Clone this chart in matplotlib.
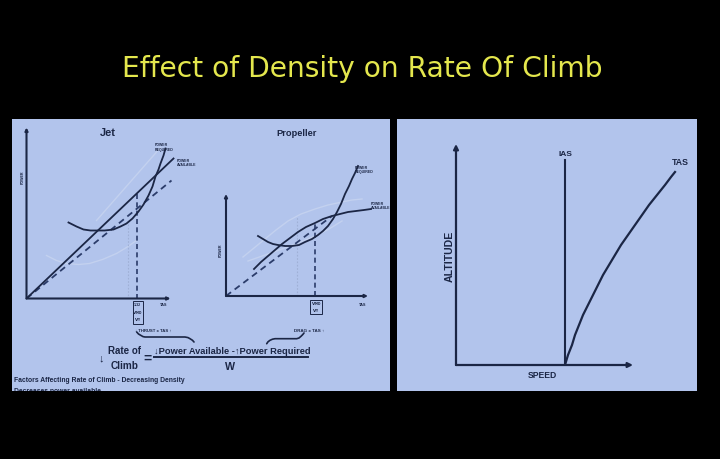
import matplotlib
matplotlib.use('Agg')
import matplotlib.pyplot as plt
from matplotlib import font_manager as fm
from matplotlib.patches import Rectangle

# ---------------- data ----------------
TITLE = 'Effect of Density on Rate Of Climb'

# Jet diagram (x: TAS, y: power; arbitrary units, origin = axes corner)
jet_pa_tas = [0, 147]
jet_pa_pow = [0, 140]
jet_pa_alt_tas = [0, 145]
jet_pa_alt_pow = [0, 118]
jet_pr_tas = [42, 50, 57, 64, 70, 78, 87, 94, 100, 106, 112, 117, 122, 126, 129, 132, 134, 137, 139]
jet_pr_pow = [76, 72, 69, 68, 68, 68, 69, 72, 75, 80, 87, 94, 103, 112, 122, 129, 135, 143, 150]
jet_ghost1_tas = [70, 134]
jet_ghost1_pow = [78, 151]
jet_ghost2_tas = [20, 30, 40, 52, 63, 76, 90, 100, 110]
jet_ghost2_pow = [43, 38, 35, 34, 35, 39, 45, 51, 58]
jet_vy = (110, 105)
jet_vmd = (101, 80)

# Propeller diagram
prop_pa_tas = [28, 35, 42, 49, 56, 64, 72, 80, 89, 97, 106, 114, 122, 130, 138, 145]
prop_pa_pow = [27, 34, 40, 46, 52, 58, 64, 69, 73, 77, 80, 82, 84, 85, 86, 87]
prop_pa_alt_tas = [0, 106]
prop_pa_alt_pow = [0, 80]
prop_pr_tas = [32, 37, 42, 47, 52, 59, 66, 73, 79, 86, 92, 97, 102, 107, 111, 115, 119, 123, 126, 129, 132]
prop_pr_pow = [60, 57, 54, 52, 51, 50, 50, 51, 54, 57, 61, 65, 70, 77, 84, 92, 102, 110, 117, 123, 130]
prop_ghost1_tas = [17, 28, 39, 50, 62, 75, 89, 102, 116, 126, 136]
prop_ghost1_pow = [39, 48, 57, 66, 75, 82, 87, 91, 94, 96, 97]
prop_ghost2_tas = [22, 39, 56, 72, 89, 103, 116]
prop_ghost2_pow = [35, 41, 47, 53, 60, 67, 75]
prop_vy = (89, 74)
prop_vmd = (71, 80)

# Altitude vs speed diagram
ias_speed = 109
ias_top = 205
tas_speed = [109, 110.5, 112, 114, 116, 119, 123, 127, 132, 137, 142, 147, 153, 159, 165, 172, 179, 186, 193, 201, 209, 215, 219]
tas_alt = [0, 5, 10, 15, 20, 30, 40, 50, 60, 70, 80, 90, 100, 110, 120, 130, 140, 150, 160, 170, 180, 188, 193]

# Braces (left panel, panel units)
jet_brace_x = [136.7, 138.5, 140.7, 143, 145, 185, 188, 190, 192.5, 194]
jet_brace_y = [333, 335, 336.3, 337.6, 338, 338, 338.6, 339.7, 341.3, 343]
prop_brace_x = [266.7, 268, 270, 272.5, 275, 296.7, 299, 301, 302.8, 304]
prop_brace_y = [344.7, 342.8, 341.3, 340.2, 339.7, 339.7, 339, 337.3, 335.5, 334]

# ---------------- style ----------------
W, H = 720, 460
PANEL = '#b2c4ec'
INK = '#1b2645'
DASH = '#2b3c6a'
GHOST = '#c3d1ef'
YELLOW = '#e4e74d'

names = {f.name for f in fm.fontManager.ttflist}
NARROW = 'Liberation Sans Narrow' if 'Liberation Sans Narrow' in names else 'Liberation Sans'
FAM = [NARROW, 'DejaVu Sans']
RFAM = ['Liberation Sans', 'DejaVu Sans']

fig = plt.figure(figsize=(W / 100, H / 100), dpi=100, facecolor='black')
renderer = fig.canvas.get_renderer()


def fit(t, width_px):
    w = t.get_window_extent(renderer).width
    if w > 0:
        t.set_fontsize(t.get_fontsize() * width_px / w)
    return t


def panel(x0, y0, x1, y1):
    ax = fig.add_axes([x0 / W, 1 - y1 / H, (x1 - x0) / W, (y1 - y0) / H])
    ax.set_facecolor(PANEL)
    ax.set_xlim(x0, x1)
    ax.set_ylim(y1, y0)
    ax.set_xticks([])
    ax.set_yticks([])
    for s in ax.spines.values():
        s.set_visible(False)
    return ax


def diagram(ox, oy, w, h):
    # axes whose data origin sits at pixel (ox, oy), 1 unit = 1 px
    ax = fig.add_axes([ox / W, 1 - oy / H, w / W, h / H])
    ax.set_xlim(0, w)
    ax.set_ylim(0, h)
    ax.axis('off')
    return ax


def axes_lines(ax, xlen, ylen, ms=5, lw=1.5):
    for xy in [(xlen, 0), (0, ylen)]:
        ax.annotate('', xy=xy, xytext=(0, 0),
                    arrowprops=dict(arrowstyle='-|>', color=INK, lw=lw,
                                    mutation_scale=ms, shrinkA=0, shrinkB=0),
                    annotation_clip=False)


# ---------------- title ----------------
t = fig.text(362 / W, 1 - 77 / H, TITLE, ha='center', va='baseline',
             color=YELLOW, fontsize=20, family='DejaVu Sans')
fit(t, 481)

# ---------------- left panel ----------------
lp = panel(12, 120, 390, 392)

# equation and footer (panel pixel units)
lp.text(101, 358, '\u2193', ha='center', va='center', color=INK,
        fontsize=8, family=FAM, fontweight='bold')
fit(lp.text(124, 351.5, 'Rate of', ha='center', va='center', color=INK,
            fontsize=8, family=FAM, fontweight='bold'), 33)
fit(lp.text(125, 366, 'Climb', ha='center', va='center', color=INK,
            fontsize=8, family=FAM, fontweight='bold'), 28)
lp.text(148, 359, '=', ha='center', va='center', color=INK,
        fontsize=10, family=FAM, fontweight='bold')
fit(lp.text(232, 351.5, '\u2193Power Available -\u2191Power Required', ha='center',
            va='center', color=INK, fontsize=8, family=FAM, fontweight='bold'), 156)
lp.plot([154, 308], [357.5, 357.5], color=INK, lw=1.4)
fit(lp.text(230, 367, 'W', ha='center', va='center', color=INK,
            fontsize=8, family=FAM, fontweight='bold'), 10)
fit(lp.text(14, 381, 'Factors Affecting Rate of Climb - Decreasing Density',
            ha='left', va='center', color=INK, fontsize=6, family=FAM,
            fontweight='bold'), 172)
fit(lp.text(14, 388.5, 'Decreases power available', ha='left', va='top',
            color=INK, fontsize=6, family=FAM, fontweight='bold', clip_on=True), 88)

fit(lp.text(153, 331, '\u2193 THRUST x TAS \u2191', ha='center', va='center',
            color=INK, fontsize=3, family=FAM, fontweight='bold'), 37)
fit(lp.text(309, 331, 'DRAG x TAS \u2191', ha='center', va='center',
            color=INK, fontsize=3, family=FAM, fontweight='bold'), 30)
lp.plot(jet_brace_x, jet_brace_y, color=INK, lw=1.2, solid_capstyle='round')
lp.plot(prop_brace_x, prop_brace_y, color=INK, lw=1.2, solid_capstyle='round')

# ---- Jet ----
jx = diagram(26.5, 299.5, 175, 178)
jx.plot(jet_ghost1_tas, jet_ghost1_pow, color=GHOST, lw=1.0)
jx.plot(jet_ghost2_tas, jet_ghost2_pow, color=GHOST, lw=1.0)
jx.plot([jet_vmd[0]] * 2, [0, jet_vmd[1]], color='#9fb0d6', lw=0.8, ls=(0, (1.5, 1.5)))
jx.plot([jet_vy[0]] * 2, [0, jet_vy[1]], color=DASH, lw=1.2, ls=(0, (3, 2)))
jx.plot(jet_pa_alt_tas, jet_pa_alt_pow, color=DASH, lw=1.3, ls=(0, (3.5, 2.5)))
jx.plot(jet_pa_tas, jet_pa_pow, color=INK, lw=1.3)
jx.plot(jet_pr_tas, jet_pr_pow, color=INK, lw=1.3, solid_joinstyle='round')
axes_lines(jx, 144, 171, ms=4, lw=1.5)
fit(jx.text(81, 166, 'Jet', ha='center', va='center', color=INK,
            fontsize=8, family=FAM, fontweight='bold'), 16)
jx.text(-4, 122, 'POWER', rotation=90, ha='center', va='center', color=INK,
        fontsize=2.6, family=RFAM, fontweight='bold')
jx.text(137, -5.5, 'TAS', ha='center', va='center', color=INK,
        fontsize=2.8, family=RFAM, fontweight='bold')
jx.text(128, 152, 'POWER\nREQUIRED', ha='left', va='center', color=INK,
        fontsize=2.5, family=RFAM, fontweight='bold', linespacing=1.0)
jx.text(150, 137, 'POWER\nAVAILABLE', ha='left', va='center', color=INK,
        fontsize=2.5, family=RFAM, fontweight='bold', linespacing=1.0)
jx.add_patch(Rectangle((106, -25), 10, 23, fill=False, ec=INK, lw=0.7, clip_on=False))
jx.text(111, -6, '1.32', ha='center', va='center', color=INK, fontsize=2.6,
        family=RFAM, fontweight='bold')
jx.text(111, -13.5, r'$\mathregular{V_{MD}}$', ha='center', va='center',
        color=INK, fontsize=3.0, fontweight='bold')
jx.text(111, -20.5, r'$\mathregular{V_{Y}}$', ha='center', va='center',
        color=INK, fontsize=3.0, fontweight='bold')

# ---- Propeller ----
px_ = diagram(226, 297, 170, 180)
px_.plot(prop_ghost1_tas, prop_ghost1_pow, color=GHOST, lw=1.0)
px_.plot(prop_ghost2_tas, prop_ghost2_pow, color=GHOST, lw=1.0)
px_.plot([prop_vmd[0]] * 2, [0, prop_vmd[1]], color='#9fb0d6', lw=0.8, ls=(0, (1.5, 1.5)))
px_.plot([prop_vy[0]] * 2, [0, prop_vy[1]], color=DASH, lw=1.2, ls=(0, (3, 2)))
px_.plot(prop_pa_alt_tas, prop_pa_alt_pow, color=DASH, lw=1.3, ls=(0, (3.5, 2.5)))
px_.plot(prop_pa_tas, prop_pa_pow, color=INK, lw=1.3, solid_joinstyle='round')
px_.plot(prop_pr_tas, prop_pr_pow, color=INK, lw=1.3, solid_joinstyle='round')
axes_lines(px_, 142, 102, ms=4, lw=1.5)
fit(px_.text(71, 164, 'Propeller', ha='center', va='center', color=INK,
             fontsize=8, family=FAM, fontweight='bold'), 40)
px_.text(-5, 47, 'POWER', rotation=90, ha='center', va='center', color=INK,
         fontsize=2.6, family=RFAM, fontweight='bold')
px_.text(137, -8, 'TAS', ha='center', va='center', color=INK,
         fontsize=2.8, family=RFAM, fontweight='bold')
px_.text(129, 127, 'POWER\nREQUIRED', ha='left', va='center', color=INK,
         fontsize=2.5, family=RFAM, fontweight='bold', linespacing=1.0)
px_.text(145, 91, 'POWER\nAVAILABLE', ha='left', va='center', color=INK,
         fontsize=2.5, family=RFAM, fontweight='bold', linespacing=1.0)
px_.add_patch(Rectangle((84, -18), 12, 14, fill=False, ec=INK, lw=0.7, clip_on=False))
px_.text(90, -7.5, r'$\mathregular{V_{MD}}$', ha='center', va='center',
         color=INK, fontsize=3.0, fontweight='bold')
px_.text(90, -14.5, r'$\mathregular{V_{Y}}$', ha='center', va='center',
         color=INK, fontsize=3.0, fontweight='bold')

# ---------------- right panel ----------------
rp = panel(397, 120, 697, 392)
rx = diagram(456, 366, 240, 246)
axes_lines(rx, 177, 221, ms=7, lw=1.6)
rx.plot([ias_speed, ias_speed], [0, ias_top], color=INK, lw=1.5)
rx.plot(tas_speed, tas_alt, color=INK, lw=1.6, solid_joinstyle='round')
fit(rx.text(ias_speed, 211, 'IAS', ha='center', va='center', color=INK,
            fontsize=6, family=FAM, fontweight='bold'), 14)
fit(rx.text(224, 203, 'TAS', ha='center', va='center', color=INK,
            fontsize=6, family=FAM, fontweight='bold'), 17)
t = rx.text(86, -10, 'SPEED', ha='center', va='center', color=INK,
            fontsize=6, family=FAM, fontweight='bold')
fit(t, 29)
t = rx.text(-6, 110, 'ALTITUDE', ha='center', va='center', color=INK,
            fontsize=6, family=FAM, fontweight='bold', rotation=90)
w = t.get_window_extent(renderer).height
t.set_fontsize(t.get_fontsize() * 51 / w)

fig.savefig('out.png', dpi=100, facecolor='black')
